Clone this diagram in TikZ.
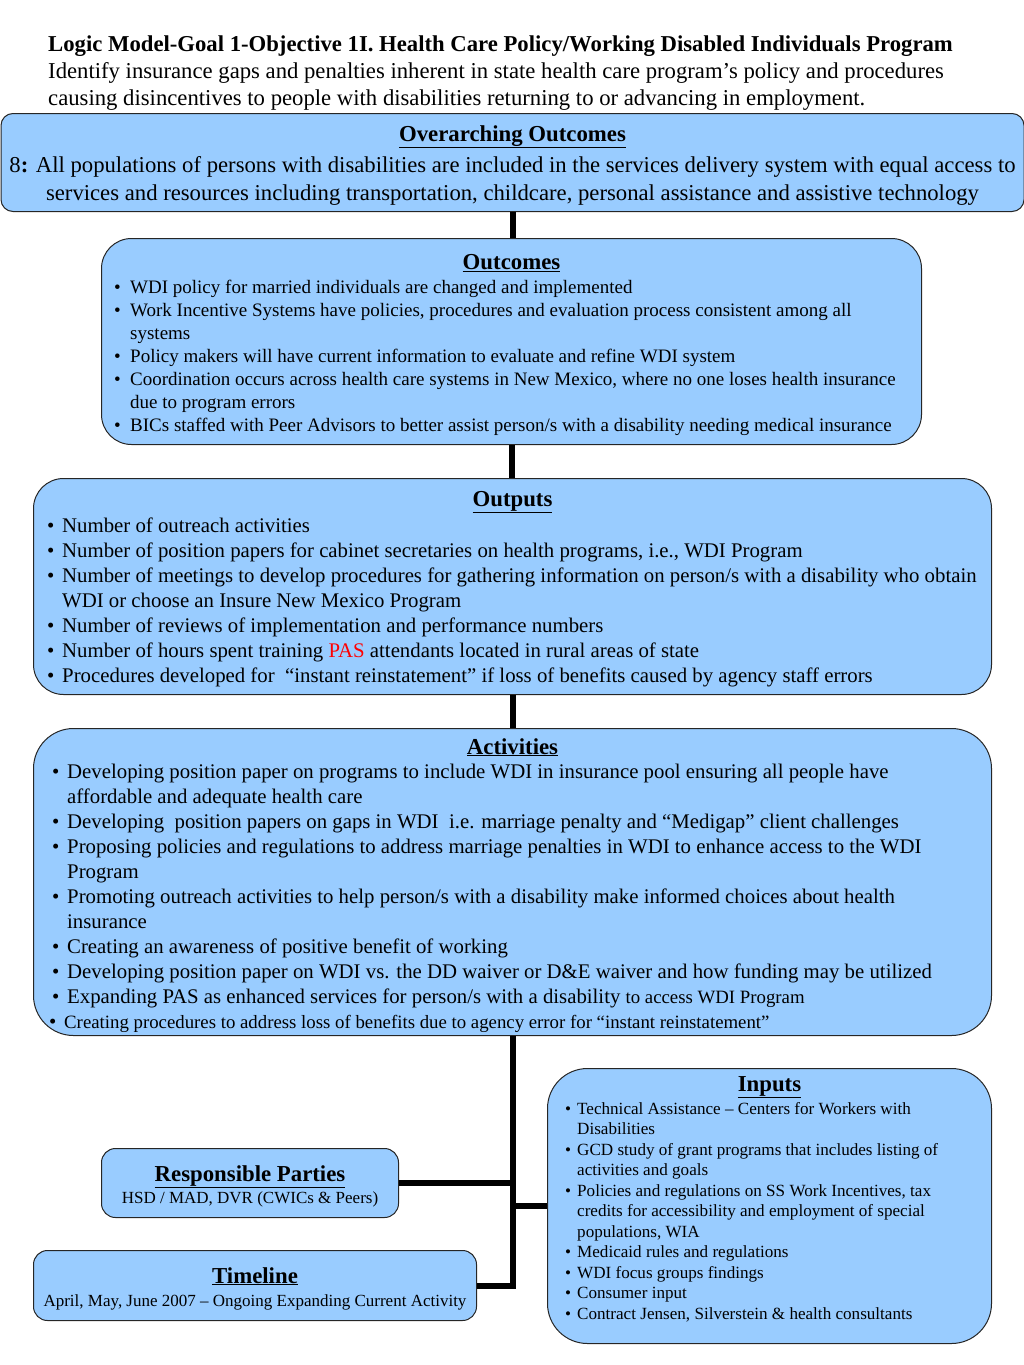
\documentclass[tikz,border=0pt]{standalone}
\usepackage{fontspec}
\setmainfont{Liberation Serif}
\usetikzlibrary{positioning}
\definecolor{boxblue}{RGB}{153,204,255}
\newlength{\bulw}
\newcommand{\itm}{\makebox[\bulw][l]{\textbullet}}
\newcommand{\cnt}{\hspace*{\bulw}}

\begin{document}
\begin{tikzpicture}[x=1pt,y=-1pt,
    box/.style={draw=black!85, fill=boxblue, line width=1pt, inner sep=0pt,
      anchor=north west, rounded corners=#1},
    box/.default=30pt,
    head/.style={inner sep=0pt, font=\bfseries\fontsize{22.8}{26}\selectfont},
    body/.style={anchor=north west, align=left, inner sep=0pt,
      execute at begin node={\setlength{\bulw}{#1}}},
    link/.style={line width=6pt}]
    \useasboundingbox (0,0) rectangle (1024,1365);

    % heading
    \node[anchor=north west, align=left, inner sep=0pt,
      font=\fontsize{22.7}{27}\selectfont] (intro) at (48,36)
      {\textbf{Logic Model-Goal 1-Objective 1I. Health Care Policy/Working Disabled Individuals Program}\\
       Identify insurance gaps and penalties inherent in state health care program's policy and procedures\\
       causing disincentives to people with disabilities returning to or advancing in employment.};

    % overarching outcomes
    \node[box=12pt, minimum width=1023pt, minimum height=98pt] (overarch) at (0.5,113) {};
    \node[head, below=12pt of overarch.north] (overarchT) {\underline{Overarching Outcomes}};
    \node[anchor=north, align=center, inner sep=0pt, font=\fontsize{22.7}{28}\selectfont]
      (overarchL) at ([yshift=-43pt]overarch.north)
      {8\textbf{:} All populations of persons with disabilities are included in the services delivery system with equal access to\\
       services and resources including transportation, childcare, personal assistance and assistive technology};

    % outcomes
    \node[box, minimum width=820pt, minimum height=206pt] (outcomes) at (101,238) {};
    \node[head, below=16pt of outcomes.north] (outcomesT) {\underline{Outcomes}};
    \node[body=16pt, font=\fontsize{19}{23}\selectfont] (outcomesL)
      at ([xshift=13pt,yshift=-42pt]outcomes.north west)
      {\itm WDI policy for married individuals are changed and implemented\\
       \itm Work Incentive Systems have policies, procedures and evaluation process consistent among all\\
       \cnt systems\\
       \itm Policy makers will have current information to evaluate and refine WDI system\\
       \itm Coordination occurs across health care systems in New Mexico, where no one loses health insurance\\
       \cnt due to program errors\\
       \itm BICs staffed with Peer Advisors to better assist person/s with a disability needing medical insurance};

    % outputs
    \node[box, minimum width=958pt, minimum height=216pt] (outputs) at (33,478) {};
    \node[head, below=13pt of outputs.north] (outputsT) {\underline{Outputs}};
    \node[body=15pt, font=\fontsize{20.8}{25}\selectfont] (outputsL)
      at ([xshift=14pt,yshift=-40pt]outputs.north west)
      {\itm Number of outreach activities\\
       \itm Number of position papers for cabinet secretaries on health programs, i.e., WDI Program\\
       \itm Number of meetings to develop procedures for gathering information on person/s with a disability who obtain\\
       \cnt WDI or choose an Insure New Mexico Program\\
       \itm Number of reviews of implementation and performance numbers\\
       \itm Number of hours spent training {\color{red}PAS} attendants located in rural areas of state\\
       \itm Procedures developed for \ ``instant reinstatement'' if loss of benefits caused by agency staff errors};

    % activities
    \node[box=40pt, minimum width=958pt, minimum height=307pt] (activities) at (33,728) {};
    \node[head, below=10pt of activities.north] (activitiesT) {\underline{Activities}};
    \node[body=15pt, font=\fontsize{20.8}{25}\selectfont] (activitiesL)
      at ([xshift=19pt,yshift=-36pt]activities.north west)
      {\itm Developing position paper on programs to include WDI in insurance pool ensuring all people have\\
       \cnt affordable and adequate health care\\
       \itm Developing \ position papers on gaps in WDI \ i.e. marriage penalty and ``Medigap'' client challenges\\
       \itm Proposing policies and regulations to address marriage penalties in WDI to enhance access to the WDI\\
       \cnt Program\\
       \itm Promoting outreach activities to help person/s with a disability make informed choices about health\\
       \cnt insurance\\
       \itm Creating an awareness of positive benefit of working\\
       \itm Developing position paper on WDI vs. the DD waiver or D\&E waiver and how funding may be utilized\\
       \itm Expanding PAS as enhanced services for person/s with a disability {\fontsize{18.8}{25}\selectfont to access WDI Program}\\
       \hspace*{-3pt}\itm{\fontsize{18.8}{25}\selectfont Creating procedures to address loss of benefits due to agency error for ``instant reinstatement''}};

    % inputs
    \node[box=40pt, minimum width=444pt, minimum height=275pt] (inputs) at (547,1068) {};
    \node[head, below=8pt of inputs.north] (inputsT) {\underline{Inputs}};
    \node[body=12pt, font=\fontsize{17.1}{20.5}\selectfont] (inputsL)
      at ([xshift=18pt,yshift=-34pt]inputs.north west)
      {\itm Technical Assistance -- Centers for Workers with\\
       \cnt Disabilities\\
       \itm GCD study of grant programs that includes listing of\\
       \cnt activities and goals\\
       \itm Policies and regulations on SS Work Incentives, tax\\
       \cnt credits for accessibility and employment of special\\
       \cnt populations, WIA\\
       \itm Medicaid rules and regulations\\
       \itm WDI focus groups findings\\
       \itm Consumer input\\
       \itm Contract Jensen, Silverstein \& health consultants};

    % responsible parties and timeline
    \node[box=14pt, minimum width=297pt, minimum height=69pt] (parties) at (101,1148) {};
    \node[head, below=17pt of parties.north] (partiesT) {\underline{Responsible Parties}};
    \node[anchor=north, inner sep=0pt, font=\fontsize{17}{20}\selectfont] (partiesL)
      at ([yshift=-43pt]parties.north) {HSD / MAD, DVR (CWICs \& Peers)};

    \node[box=14pt, minimum width=443pt, minimum height=70pt] (timeline) at (33,1250) {};
    \node[head, below=17pt of timeline.north] (timelineT) {\underline{Timeline}};
    \node[anchor=north, inner sep=0pt, font=\fontsize{17}{20}\selectfont] (timelineL)
      at ([yshift=-44pt]timeline.north) {April, May, June 2007 -- Ongoing Expanding Current Activity};

    % connectors
    \draw[link] (overarch.south) -- (overarch.south |- outcomes.north);
    \draw[link] (outcomes.south) -- (outcomes.south |- outputs.north);
    \draw[link] (outputs.south) -- (activities.north);
    \coordinate (trunk) at (activities.south |- timeline.east);
    \draw[link] (activities.south) -- (trunk) -- (timeline.east);
    \draw[link] (parties.east) -- (parties.east -| trunk);
    \draw[link] (inputs.west) -- (inputs.west -| trunk);
\end{tikzpicture}
\end{document}
